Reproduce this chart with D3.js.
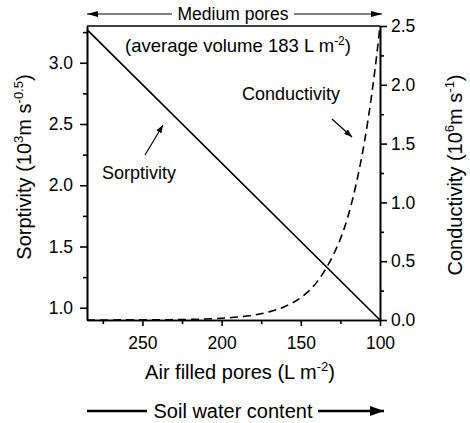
<!DOCTYPE html>
<html><head><meta charset="utf-8">
<script src="https://cdn.jsdelivr.net/npm/d3@7"></script>
<style>body{margin:0;background:#fff}text{font-family:"Liberation Sans",Arial,sans-serif;fill:#000}</style>
</head><body>
<svg id="c" width="470" height="423"></svg>
<script>
// Data
const sorpX = [285, 100];
const sorpY = [3.27, 0.90];
const condX = [285, 260, 240, 220, 200, 190, 180, 170, 160, 150, 140, 130, 125, 120, 115, 110, 105, 102, 100];
const condY = [0.0, 0.001, 0.002, 0.005, 0.015, 0.025, 0.041, 0.069, 0.115, 0.19, 0.32, 0.54, 0.69, 0.89, 1.16, 1.50, 1.94, 2.26, 2.5];
const xTicks = [250, 200, 150, 100];
const xMinor = [275, 225, 175, 125];
const leftTicks = [1.0, 1.5, 2.0, 2.5, 3.0];
const leftMinor = [1.25, 1.75, 2.25, 2.75, 3.25];
const rightTicks = [0.0, 0.5, 1.0, 1.5, 2.0, 2.5];
const rightMinor = [0.25, 0.75, 1.25, 1.75, 2.25];

const svg = d3.select("#c");
const FS = 17.5;
const x = d3.scaleLinear().domain([285, 100]).range([87, 380]);
const yL = d3.scaleLinear().domain([0.9, 3.3]).range([320, 26]);
const yR = d3.scaleLinear().domain([0, 2.5]).range([320, 26]);

function styleAxis(g){
  g.selectAll("path,line").attr("stroke","#000").attr("stroke-width",1.6);
  g.selectAll("text").attr("font-size",FS).attr("font-family",'"Liberation Sans",Arial,sans-serif').attr("fill","#000");
}
// minor ticks
svg.append("g").attr("transform","translate(0,320)").call(d3.axisBottom(x).tickValues(xMinor).tickSize(4).tickFormat("").tickSizeOuter(0)).call(styleAxis);
svg.append("g").attr("transform","translate(87,0)").call(d3.axisLeft(yL).tickValues(leftMinor).tickSize(4).tickFormat("").tickSizeOuter(0)).call(styleAxis);
svg.append("g").attr("transform","translate(380,0)").call(d3.axisRight(yR).tickValues(rightMinor).tickSize(4).tickFormat("").tickSizeOuter(0)).call(styleAxis);
// major
svg.append("g").attr("transform","translate(0,320)").call(d3.axisBottom(x).tickValues(xTicks).tickSize(6).tickPadding(11).tickSizeOuter(0)).call(styleAxis);
svg.append("g").attr("transform","translate(87,0)").call(d3.axisLeft(yL).tickValues(leftTicks).tickSize(7).tickPadding(7).tickFormat(d3.format(".1f")).tickSizeOuter(0)).call(styleAxis);
svg.append("g").attr("transform","translate(380,0)").call(d3.axisRight(yR).tickValues(rightTicks).tickSize(7).tickPadding(4).tickFormat(d3.format(".1f")).tickSizeOuter(0)).call(styleAxis);
// top border
svg.append("line").attr("x1",87).attr("x2",380).attr("y1",26).attr("y2",26).attr("stroke","#000").attr("stroke-width",1.3);

// series
const sorp = sorpX.map((v,i)=>[v, sorpY[i]]);
const cond = condX.map((v,i)=>[v, condY[i]]);
svg.append("path").datum(sorp).attr("fill","none").attr("stroke","#000").attr("stroke-width",1.6)
  .attr("d", d3.line().x(d=>x(d[0])).y(d=>yL(d[1])));
svg.append("path").datum(cond).attr("fill","none").attr("stroke","#000").attr("stroke-width",1.6)
  .attr("stroke-dasharray","8,5")
  .attr("d", d3.line().curve(d3.curveMonotoneX).x(d=>x(d[0])).y(d=>yR(d[1])));

// arrow markers
const defs = svg.append("defs");
function marker(id,w,h){
  defs.append("marker").attr("id",id).attr("viewBox",`0 0 ${w} ${h}`).attr("refX",w).attr("refY",h/2)
    .attr("markerWidth",w).attr("markerHeight",h).attr("markerUnits","userSpaceOnUse").attr("orient","auto")
    .append("path").attr("d",`M0,0L${w},${h/2}L0,${h}Z`).attr("fill","#000");
}
marker("ah",11,6); marker("ahs",8,6); marker("ahb",14,10);

function arrow(x1,y1,x2,y2,w,m){
  const l = svg.append("line").attr("x1",x1).attr("y1",y1).attr("x2",x2).attr("y2",y2)
    .attr("stroke","#000").attr("stroke-width",w);
  if (m) l.attr("marker-end",`url(#${m})`);
}
// top arrows
arrow(172,14,87,14,1.2,"ah");
arrow(294,14,382,14,1.2,"ah");
svg.append("text").attr("x",233).attr("y",20).attr("text-anchor","middle").attr("font-size",17.5).text("Medium pores");
const av = svg.append("text").attr("x",238).attr("y",52).attr("text-anchor","middle").attr("font-size",18.5);
av.append("tspan").text("(average volume 183 L m");
av.append("tspan").attr("dy",-7).attr("font-size",12).text("-2");
av.append("tspan").attr("dy",7).text(")");

// bottom
arrow(87,411,147,411,2.5,null);
arrow(318,411,384,411,2.5,"ahb");
svg.append("text").attr("x",233).attr("y",418).attr("text-anchor","middle").attr("font-size",20).text("Soil water content");

const xt = svg.append("text").attr("x",240).attr("y",379).attr("text-anchor","middle").attr("font-size",20);
xt.append("tspan").text("Air filled pores (L m");
xt.append("tspan").attr("dy",-8).attr("font-size",13).text("-2");
xt.append("tspan").attr("dy",8).text(")");

const lt = svg.append("text").attr("transform","translate(31,167) rotate(-90)").attr("text-anchor","middle").attr("font-size",20);
lt.append("tspan").text("Sorptivity (10");
lt.append("tspan").attr("dy",-8).attr("font-size",13).text("3");
lt.append("tspan").attr("dy",8).text("m s");
lt.append("tspan").attr("dy",-8).attr("font-size",13).text("-0.5");
lt.append("tspan").attr("dy",8).text(")");

const rt = svg.append("text").attr("transform","translate(462,175) rotate(-90)").attr("text-anchor","middle").attr("font-size",20);
rt.append("tspan").text("Conductivity  (10");
rt.append("tspan").attr("dy",-8).attr("font-size",13).text("6");
rt.append("tspan").attr("dy",8).text("m s");
rt.append("tspan").attr("dy",-8).attr("font-size",13).text("-1");
rt.append("tspan").attr("dy",8).text(")");

// annotations
svg.append("text").attr("x",242).attr("y",100).attr("font-size",18).text("Conductivity");
svg.append("text").attr("x",102).attr("y",179).attr("font-size",18).text("Sorptivity");
arrow(145,155,163,125,1.2,"ahs");
arrow(332,119,352,137,1.2,"ahs");
</script>
</body></html>
